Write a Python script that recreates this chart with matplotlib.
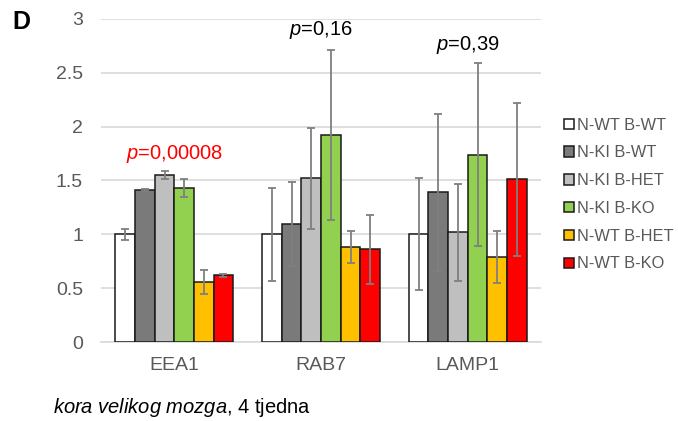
import numpy as np
import matplotlib.pyplot as plt

plt.rcParams['font.family'] = ['Liberation Sans', 'DejaVu Sans']
plt.rcParams['mathtext.fontset'] = 'custom'
plt.rcParams['mathtext.rm'] = 'Liberation Sans'
plt.rcParams['mathtext.it'] = 'Liberation Sans:italic'

# data
markers = ['EEA1', 'RAB7', 'LAMP1']
groups = ['N-WT B-WT', 'N-KI B-WT', 'N-KI B-HET', 'N-KI B-KO', 'N-WT B-HET', 'N-WT B-KO']
colors = ['#ffffff', '#7a7a7a', '#bfbfbf', '#92d050', '#ffc000', '#ff0000']
values = [
    [1.00, 1.41, 1.55, 1.43, 0.56, 0.62],
    [1.00, 1.10, 1.52, 1.92, 0.88, 0.86],
    [1.00, 1.39, 1.02, 1.74, 0.79, 1.51],
]
errors = [
    [0.05, 0.01, 0.04, 0.085, 0.11, 0.015],
    [0.43, 0.39, 0.47, 0.79, 0.15, 0.32],
    [0.52, 0.73, 0.45, 0.85, 0.24, 0.71],
]
pvals = ['0,00008', '0,16', '0,39']
p_colors = ['#ff0000', '#000000', '#000000']
p_y = [1.75, 2.90, 2.76]

values = np.array(values)
errors = np.array(errors)

fig = plt.figure(figsize=(6.78, 4.21), dpi=100)
ax = fig.add_axes([0.149, 0.1876, 0.649, 0.7674])

x = np.arange(len(markers))
w = 0.134
for i, g in enumerate(groups):
    pos = x + (i - 2.5) * w
    ax.bar(pos, values[:, i], w, color=colors[i], edgecolor='#1a1a1a',
           linewidth=1.1, label=g, zorder=3)
    ax.errorbar(pos, values[:, i], yerr=errors[:, i], fmt='none',
                ecolor='#7f7f7f', elinewidth=1.3, capsize=3, capthick=1.3, zorder=4)

for i in range(len(markers)):
    ax.text(x[i], p_y[i], r'$\mathit{p}$=' + pvals[i], color=p_colors[i],
            fontsize=14.5, ha='center', va='center')

ax.set_xlim(-0.5, 2.5)
ax.set_ylim(0, 3)
ax.set_yticks([0, 0.5, 1, 1.5, 2, 2.5, 3])
ax.set_yticklabels(['0', '0.5', '1', '1.5', '2', '2.5', '3'])
ax.set_xticks(x)
ax.set_xticklabels(markers)
ax.tick_params(axis='y', length=0, pad=13, labelsize=14, labelcolor='#595959')
ax.tick_params(axis='x', length=0, pad=11, labelsize=14, labelcolor='#595959')
ax.grid(axis='y', color='#d9d9d9', linewidth=1.2, zorder=0)
for s in ['left', 'right', 'top']:
    ax.spines[s].set_visible(False)
ax.spines['bottom'].set_color('#d9d9d9')
ax.spines['bottom'].set_linewidth(1.2)

leg = ax.legend(loc='upper left', bbox_to_anchor=(1.038, 0.715), frameon=False,
                fontsize=11.8, handlelength=0.6, handleheight=0.6,
                handletextpad=0.2, labelspacing=0.78, borderaxespad=0)
for t in leg.get_texts():
    t.set_color('#595959')

fig.text(0.018, 0.948, 'D', fontsize=18, fontweight='bold', va='center')
fig.text(0.078, 0.031, r'$\mathit{kora\ velikog\ mozga}$, 4 tjedna',
         fontsize=14.5, va='center')

plt.savefig('out.png', dpi=100)
